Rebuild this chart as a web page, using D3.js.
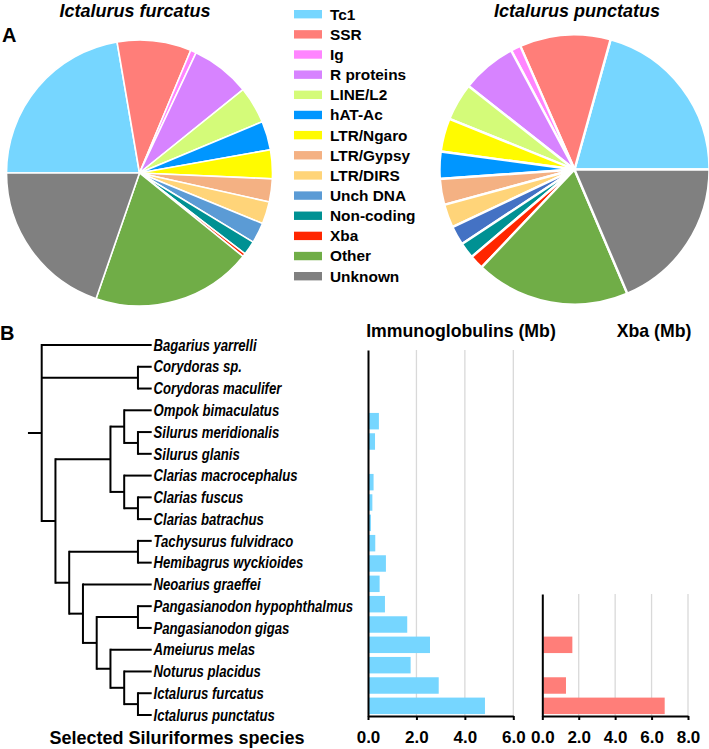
<!DOCTYPE html>
<html><head><meta charset="utf-8">
<script src="https://cdn.jsdelivr.net/npm/d3@7"></script>
<style>
body{margin:0;background:#fff}
svg{display:block}
text{font-family:"Liberation Sans",Arial,Helvetica,sans-serif;fill:#000}
</style>
</head><body>
<svg id="c" width="709" height="749"></svg>
<script>
// ---------- DATA ----------
const categories = ["Tc1","SSR","Ig","R proteins","LINE/L2","hAT-Ac","LTR/Ngaro","LTR/Gypsy","LTR/DIRS","Unch DNA","Non-coding","Xba","Other","Unknown"];
const categoryColors = ["#76D6FF","#FF7E79","#FF85FF","#D783FF","#D4FB79","#0096FF","#FFFB00","#F4B183","#FFD479","#5B9BD5","#009193","#FF2600","#70AD47","#808080"];
// percentages, in category order
const furcatusValues  = [22.3, 9.0, 0.7, 7.2, 4.5, 3.5, 3.5, 2.8, 2.7, 2.5, 1.7, 0.4, 19.5, 19.7];
const punctatusValues = [20.7, 10.9, 1.2, 6.6, 4.5, 3.25, 4.0, 3.1, 2.8, 2.3, 1.9, 1.7, 18.5, 18.6];
const furcatusOrder  = ["Tc1","SSR","Ig","R proteins","LINE/L2","hAT-Ac","LTR/Ngaro","LTR/Gypsy","LTR/DIRS","Unch DNA","Non-coding","Xba","Other","Unknown"];
const punctatusOrder = ["Tc1","SSR","Ig","R proteins","LINE/L2","LTR/Ngaro","hAT-Ac","LTR/Gypsy","LTR/DIRS","Unch DNA","Non-coding","Xba","Other","Unknown"];
const punctatusColorOverride = {"Unch DNA":"#4472C4"};

const species = ["Bagarius yarrelli","Corydoras sp.","Corydoras maculifer","Ompok bimaculatus","Silurus meridionalis","Silurus glanis","Clarias macrocephalus","Clarias fuscus","Clarias batrachus","Tachysurus fulvidraco","Hemibagrus wyckioides","Neoarius graeffei","Pangasianodon hypophthalmus","Pangasianodon gigas","Ameiurus melas","Noturus placidus","Ictalurus furcatus","Ictalurus punctatus"];
const igValues = [0, 0, 0, 0.45, 0.29, 0, 0.23, 0.18, 0.12, 0.30, 0.74, 0.48, 0.70, 1.62, 2.56, 1.76, 2.92, 4.83];
const xbaSpecies = ["Pangasianodon hypophthalmus","Pangasianodon gigas","Ameiurus melas","Noturus placidus","Ictalurus furcatus","Ictalurus punctatus"];
const xbaValues = [0, 0, 1.65, 0, 1.30, 6.72];
const igTicks = [0, 2, 4, 6];
const xbaTicks = [0, 2, 4, 6, 8];

const tree = [
  "Bagarius yarrelli",
  ["Corydoras sp.", "Corydoras maculifer"],
  [
    [["Ompok bimaculatus", ["Silurus meridionalis", "Silurus glanis"]],
     ["Clarias macrocephalus", ["Clarias fuscus", "Clarias batrachus"]]],
    [["Tachysurus fulvidraco", "Hemibagrus wyckioides"],
     ["Neoarius graeffei",
       [["Pangasianodon hypophthalmus", "Pangasianodon gigas"],
        ["Ameiurus melas", ["Noturus placidus", ["Ictalurus furcatus", "Ictalurus punctatus"]]]]]]
  ]
];

// ---------- DRAW ----------
const svg = d3.select("#c");
const colorOf = d3.scaleOrdinal().domain(categories).range(categoryColors);

function drawPie(cx, cy, r, order, values, a0, a1, override, sw) {
  const valOf = c => values[categories.indexOf(c)];
  const pie = d3.pie().sort(null).value(c => valOf(c)).startAngle(a0).endAngle(a1);
  const arc = d3.arc().innerRadius(0).outerRadius(r);
  const g = svg.append("g").attr("transform", `translate(${cx},${cy})`);
  g.selectAll("path").data(pie(order)).join("path")
    .attr("d", arc)
    .attr("fill", d => (override && override[d.data]) || colorOf(d.data))
    .attr("stroke", "#fff").attr("stroke-width", sw).attr("stroke-linejoin", "round");
}
drawPie(139.5, 173, 133, furcatusOrder, furcatusValues, -Math.PI/2, 3*Math.PI/2, null, 1.6);
drawPie(574.5, 169.5, 135, punctatusOrder, punctatusValues, Math.PI/2, Math.PI/2 - 2*Math.PI, punctatusColorOverride, 2.4);

svg.append("text").attr("x", 135).attr("y", 16.5).attr("text-anchor", "middle")
  .style("font-size", "18px").style("font-weight", "bold").style("font-style", "italic").text("Ictalurus furcatus");
svg.append("text").attr("x", 577).attr("y", 16.5).attr("text-anchor", "middle")
  .style("font-size", "18px").style("font-weight", "bold").style("font-style", "italic").text("Ictalurus punctatus");
svg.append("text").attr("x", 2).attr("y", 42).style("font-size", "20px").style("font-weight", "bold").text("A");
svg.append("text").attr("x", 0).attr("y", 340).style("font-size", "20px").style("font-weight", "bold").text("B");

// legend
const legY = d3.scalePoint().domain(categories).range([14.2, 276.2]);
const leg = svg.append("g");
leg.selectAll("rect").data(categories).join("rect")
  .attr("x", 294).attr("y", d => legY(d) - 4.2).attr("width", 28).attr("height", 8.4)
  .attr("fill", d => colorOf(d));
leg.selectAll("text").data(categories).join("text")
  .attr("x", 330).attr("y", d => legY(d) + 5.4)
  .style("font-size", "15.4px").style("font-weight", "bold").text(d => d);

// tree
const root = d3.hierarchy(tree, d => Array.isArray(d) ? d : null);
const leafX = 151.7, step = 13.75;
const leafY = d3.scalePoint().domain(species).range([345, 715]);
root.eachAfter(n => {
  n.x = leafX - n.height * step;
  n.y = n.children ? (n.children[0].y + n.children[n.children.length - 1].y) / 2 : leafY(n.data);
});
const tg = svg.append("g").attr("stroke", "#000").attr("stroke-width", 2).attr("fill", "none");
root.descendants().filter(n => n.children).forEach(n => {
  const c = n.children;
  tg.append("line").attr("x1", n.x).attr("x2", n.x)
    .attr("y1", c[0].y - 1).attr("y2", c[c.length - 1].y + 1);
  c.forEach(ch => tg.append("line").attr("x1", n.x).attr("x2", ch.x).attr("y1", ch.y).attr("y2", ch.y));
});
tg.append("line").attr("x1", root.x - step).attr("x2", root.x).attr("y1", root.y).attr("y2", root.y);

svg.append("g").selectAll("text").data(root.leaves()).join("text")
  .attr("transform", d => `translate(${leafX + 1.8},${d.y + 5.7}) scale(0.833,1)`)
  .style("font-size", "15.8px").style("font-weight", "bold").style("font-style", "italic")
  .text(d => d.data);

svg.append("text").attr("x", 177).attr("y", 744).attr("text-anchor", "middle")
  .style("font-size", "18px").style("font-weight", "bold").text("Selected Siluriformes species");

// bar charts
const yBand = d3.scaleBand().domain(species).range([350, 716]).paddingInner(0.19).paddingOuter(0.095);
const yTop = 350, yBot = 716;

function barPanel(xs, ticks, spList, vals, color, top) {
  const g = svg.append("g");
  g.selectAll("line.grid").data(ticks.filter(t => t > 0)).join("line")
    .attr("x1", d => xs(d)).attr("x2", d => xs(d)).attr("y1", top).attr("y2", yBot)
    .attr("stroke", "#d9d9d9").attr("stroke-width", 1.3);
  g.selectAll("rect").data(spList.map((s, i) => ({s, v: vals[i]})).filter(d => d.v > 0)).join("rect")
    .attr("x", xs(0) + 1).attr("y", d => yBand(d.s)).attr("width", d => xs(d.v) - xs(0) - 1)
    .attr("height", yBand.bandwidth()).attr("fill", color);
  const ax = g.append("g").attr("transform", `translate(0,${yBot})`)
    .call(d3.axisBottom(xs).tickValues(ticks).tickFormat(d3.format(".1f")).tickSize(4).tickSizeOuter(0));
  ax.select(".domain").attr("stroke", "#000").attr("stroke-width", 2);
  ax.selectAll(".tick line").attr("stroke", "#000").attr("stroke-width", 2);
  ax.selectAll(".tick text").attr("y", 27).attr("dy", 0)
    .style("font-size", "17px").style("font-weight", "bold").style("font-family", '"Liberation Sans",Arial,sans-serif').attr("fill", "#000");
  const yAxisScale = d3.scaleLinear().range([top, yBot]);
  const ay = g.append("g").attr("transform", `translate(${xs(0)},0)`)
    .call(d3.axisLeft(yAxisScale).tickValues([]).tickSizeOuter(0));
  ay.select(".domain").attr("stroke", "#000").attr("stroke-width", 2);
}
const xIg = d3.scaleLinear().domain([0, 6]).range([368, 513.3]);
const xXba = d3.scaleLinear().domain([0, 8]).range([542.3, 688]);
barPanel(xIg, igTicks, species, igValues, "#76D6FF", yTop);
const xbaTop = yBand(xbaSpecies[0]) - yBand.step() * yBand.paddingInner() / 2;
barPanel(xXba, xbaTicks, xbaSpecies, xbaValues, "#FF7E79", xbaTop);

svg.append("text").attr("x", 461).attr("y", 337).attr("text-anchor", "middle")
  .style("font-size", "17.7px").style("font-weight", "bold").text("Immunoglobulins (Mb)");
svg.append("text").attr("x", 654).attr("y", 337).attr("text-anchor", "middle")
  .style("font-size", "17.7px").style("font-weight", "bold").text("Xba (Mb)");
</script>
</body></html>
